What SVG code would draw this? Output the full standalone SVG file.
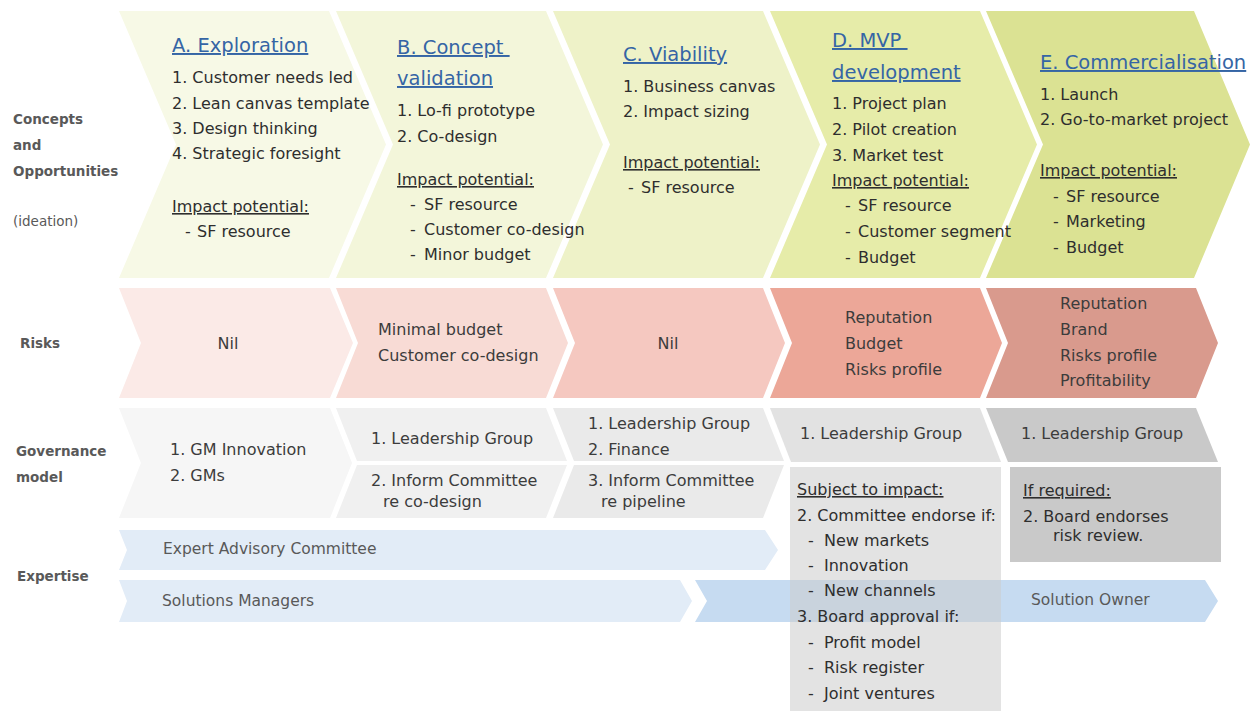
<svg xmlns="http://www.w3.org/2000/svg" width="1250" height="711" viewBox="0 0 1250 711">
  <style>
    text { font-family: "DejaVu Sans", "Liberation Sans", sans-serif; font-size: 16px; fill: #2e2e2e; }
    .lbl { font-size: 13.5px; font-weight: bold; fill: #595959; }
    .lblr { font-size: 13.5px; fill: #595959; }
    .hd { font-size: 19.5px; fill: #3565a5; text-decoration: underline; }
    .ul { text-decoration: underline; }
    .mid { text-anchor: middle; }
    .soft { fill: #3c3c3c; }
    .exp { font-size: 15.5px; fill: #595959; }
  </style>

  <rect width="1250" height="711" fill="#ffffff"/>

  <!-- row labels -->
  <g id="row-labels">
    <text class="lbl" x="13" y="124">Concepts</text>
    <text class="lbl" x="13" y="150">and</text>
    <text class="lbl" x="13" y="176">Opportunities</text>
    <text class="lblr" x="13" y="226">(ideation)</text>
    <text class="lbl" x="20" y="348">Risks</text>
    <text class="lbl" x="16" y="456">Governance</text>
    <text class="lbl" x="16" y="482">model</text>
    <text class="lbl" x="17" y="581">Expertise</text>
  </g>

  <!-- expertise bands (drawn first so the governance panel can overlay them) -->
  <g id="expertise">
    <g id="exp-advisory">
      <path d="M119,530 L765,530 L778,550 L765,570 L119,570 L127,550 Z" fill="#e2ecf7"/>
      <text class="exp" x="163" y="554">Expert Advisory Committee</text>
    </g>
    <g id="exp-managers">
      <path d="M119,580 L680,580 L692,601 L680,622 L119,622 L127,601 Z" fill="#e2ecf7"/>
      <text class="exp" x="162" y="606">Solutions Managers</text>
    </g>
    <g id="exp-owner">
      <path d="M695,580 L1205,580 L1218,601 L1205,622 L695,622 L707,601 Z" fill="#c6dbf1"/>
      <text class="exp" x="1031" y="605">Solution Owner</text>
    </g>
  </g>

  <!-- stage chevrons, right to left so overflowing text stays on top -->
  <g id="stage-e">
    <path d="M986,11 L1194,11 L1250,144.5 L1194,278 L986,278 L1043,144.5 Z" fill="#dbe293"/>
    <text class="hd" x="1040" y="69">E. Commercialisation</text>
    <text x="1040" y="100">1. Launch</text>
    <text x="1040" y="125">2. Go-to-market project</text>
    <text class="ul" x="1040" y="176">Impact potential:</text>
    <text y="202"><tspan x="1053">-</tspan><tspan x="1066">SF resource</tspan></text>
    <text y="227"><tspan x="1053">-</tspan><tspan x="1066">Marketing</tspan></text>
    <text y="253"><tspan x="1053">-</tspan><tspan x="1066">Budget</tspan></text>
  </g>
  <g id="stage-d">
    <path d="M770,11 L980,11 L1037,144.5 L980,278 L770,278 L827,144.5 Z" fill="#e6eca9"/>
    <text class="hd" x="832" y="47">D. MVP&#160;</text>
    <text class="hd" x="832" y="79">development</text>
    <text x="832" y="109">1. Project plan</text>
    <text x="832" y="135">2. Pilot creation</text>
    <text x="832" y="161">3. Market test</text>
    <text class="ul" x="832" y="186">Impact potential:</text>
    <text y="211"><tspan x="845">-</tspan><tspan x="858">SF resource</tspan></text>
    <text y="237"><tspan x="845">-</tspan><tspan x="858">Customer segment</tspan></text>
    <text y="263"><tspan x="845">-</tspan><tspan x="858">Budget</tspan></text>
  </g>
  <g id="stage-c">
    <path d="M553,11 L763,11 L820,144.5 L763,278 L553,278 L610,144.5 Z" fill="#eef2c8"/>
    <text class="hd" x="623" y="61">C. Viability</text>
    <text x="623" y="92">1. Business canvas</text>
    <text x="623" y="117">2. Impact sizing</text>
    <text class="ul" x="623" y="168">Impact potential:</text>
    <text y="193"><tspan x="628">-</tspan><tspan x="641">SF resource</tspan></text>
  </g>
  <g id="stage-b">
    <path d="M336,11 L546,11 L603,144.5 L546,278 L336,278 L393,144.5 Z" fill="#f3f6da"/>
    <text class="hd" x="397" y="54">B. Concept&#160;</text>
    <text class="hd" x="397" y="85">validation</text>
    <text x="397" y="116">1. Lo-fi prototype</text>
    <text x="397" y="142">2. Co-design</text>
    <text class="ul" x="397" y="185">Impact potential:</text>
    <text y="210"><tspan x="410">-</tspan><tspan x="424">SF resource</tspan></text>
    <text y="235"><tspan x="410">-</tspan><tspan x="424">Customer co-design</tspan></text>
    <text y="260"><tspan x="410">-</tspan><tspan x="424">Minor budget</tspan></text>
  </g>
  <g id="stage-a">
    <path d="M119,11 L329,11 L386,144.5 L329,278 L119,278 L176,144.5 Z" fill="#f7f9e6"/>
    <text class="hd" x="172" y="52">A. Exploration</text>
    <text x="172" y="83">1. Customer needs led</text>
    <text x="172" y="109">2. Lean canvas template</text>
    <text x="172" y="134">3. Design thinking</text>
    <text x="172" y="159">4. Strategic foresight</text>
    <text class="ul" x="172" y="212">Impact potential:</text>
    <text y="237"><tspan x="185">-</tspan><tspan x="197">SF resource</tspan></text>
  </g>

  <!-- risks -->
  <g id="risk-e">
    <path d="M986,288 L1196,288 L1218,343 L1196,398 L986,398 L1008,343 Z" fill="#d99a8d"/>
    <text class="soft" x="1060" y="309">Reputation</text>
    <text class="soft" x="1060" y="335">Brand</text>
    <text class="soft" x="1060" y="361">Risks profile</text>
    <text class="soft" x="1060" y="386">Profitability</text>
  </g>
  <g id="risk-d">
    <path d="M770,288 L980,288 L1002,343 L980,398 L770,398 L792,343 Z" fill="#eca798"/>
    <text class="soft" x="845" y="323">Reputation</text>
    <text class="soft" x="845" y="349">Budget</text>
    <text class="soft" x="845" y="375">Risks profile</text>
  </g>
  <g id="risk-c">
    <path d="M553,288 L763,288 L785,343 L763,398 L553,398 L575,343 Z" fill="#f5c8c0"/>
    <text class="soft mid" x="668" y="349">Nil</text>
  </g>
  <g id="risk-b">
    <path d="M336,288 L546,288 L568,343 L546,398 L336,398 L358,343 Z" fill="#f8dbd5"/>
    <text class="soft" x="378" y="335">Minimal budget</text>
    <text class="soft" x="378" y="361">Customer co-design</text>
  </g>
  <g id="risk-a">
    <path d="M119,288 L330,288 L353,343 L330,398 L119,398 L141,343 Z" fill="#fbeae7"/>
    <text class="soft mid" x="228" y="349">Nil</text>
  </g>

  <!-- governance model -->
  <g id="gov-a">
    <path d="M119,408 L330,408 L352,463 L330,518 L119,518 L141,463 Z" fill="#f6f6f6"/>
    <text class="soft" x="170" y="455">1. GM Innovation</text>
    <text class="soft" x="170" y="481">2. GMs</text>
  </g>
  <g id="gov-b-top">
    <path d="M336,408 L546,408 L567,461 L357,461 Z" fill="#f0f0f0"/>
    <text class="soft" x="371" y="444">1. Leadership Group</text>
  </g>
  <g id="gov-b-bottom">
    <path d="M357,465 L567,465 L546,518 L336,518 Z" fill="#f0f0f0"/>
    <text class="soft" x="371" y="486">2. Inform Committee</text>
    <text class="soft" x="383" y="507">re co-design</text>
  </g>
  <g id="gov-c-top">
    <path d="M553,408 L763,408 L784,461 L574,461 Z" fill="#eaeaea"/>
    <text class="soft" x="588" y="429">1. Leadership Group</text>
    <text class="soft" x="588" y="455">2. Finance</text>
  </g>
  <g id="gov-c-bottom">
    <path d="M574,465 L784,465 L763,518 L553,518 Z" fill="#eaeaea"/>
    <text class="soft" x="588" y="486">3. Inform Committee</text>
    <text class="soft" x="601" y="507">re pipeline</text>
  </g>
  <g id="gov-d-top">
    <path d="M770,408 L980,408 L1001,462 L791,462 Z" fill="#e2e2e2"/>
    <text class="soft" x="800" y="439">1. Leadership Group</text>
  </g>
  <g id="gov-e-top">
    <path d="M986,408 L1196,408 L1218,462 L1008,462 Z" fill="#c9c9c9"/>
    <text class="soft" x="1021" y="439">1. Leadership Group</text>
  </g>
  <g id="gov-d-bottom">
    <rect x="790" y="467" width="211" height="244" fill="#cbcbcb" fill-opacity="0.544"/>
    <text class="ul" x="797" y="495">Subject to impact:</text>
    <text x="797" y="521">2. Committee endorse if:</text>
    <text y="546"><tspan x="808">-</tspan><tspan x="824">New markets</tspan></text>
    <text y="571"><tspan x="808">-</tspan><tspan x="824">Innovation</tspan></text>
    <text y="596"><tspan x="808">-</tspan><tspan x="824">New channels</tspan></text>
    <text x="797" y="622">3. Board approval if:</text>
    <text y="648"><tspan x="808">-</tspan><tspan x="824">Profit model</tspan></text>
    <text y="673"><tspan x="808">-</tspan><tspan x="824">Risk register</tspan></text>
    <text y="699"><tspan x="808">-</tspan><tspan x="824">Joint ventures</tspan></text>
  </g>
  <g id="gov-e-bottom">
    <rect x="1010" y="467" width="211" height="95" fill="#c9c9c9"/>
    <text class="ul" x="1023" y="496">If required:</text>
    <text x="1023" y="522">2. Board endorses</text>
    <text x="1053" y="541">risk review.</text>
  </g>

  <!-- no connectors: stages are joined by their chevron shapes -->
  <g id="connectors"/>
</svg>
